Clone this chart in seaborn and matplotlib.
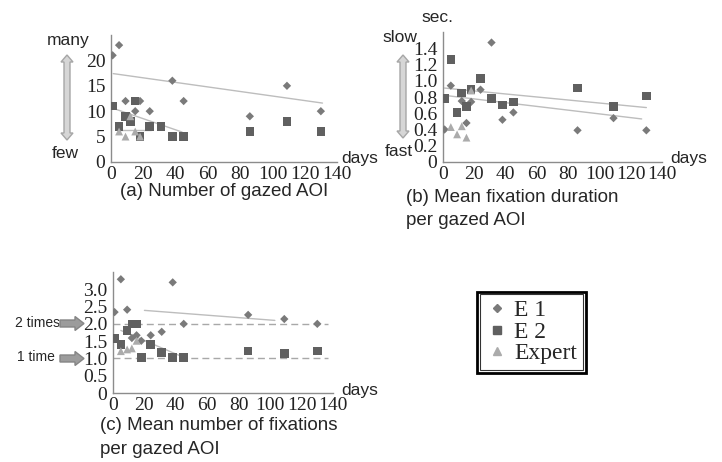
import matplotlib
matplotlib.use("Agg")
import numpy as np
import pandas as pd
import matplotlib.pyplot as plt
import seaborn as sns
from matplotlib.patches import Polygon, Rectangle
from matplotlib.lines import Line2D

sns.set_style("white")
plt.rcParams['font.family'] = ['Liberation Sans', 'DejaVu Sans']
SERIF = ['Liberation Serif', 'DejaVu Serif']

W, H = 722, 462

# ---- data (days since start, value) ----
groups = ["E 1", "E 2", "Expert"]

# (a) number of gazed AOI
a_e1_day = [1, 5, 9, 15, 18, 24, 38, 45, 86, 109, 130]
a_e1_val = [21, 23, 12, 10, 12, 10, 16, 12, 9, 15, 10]
a_e2_day = [1, 5, 9, 12, 15, 18, 24, 31, 38, 45, 86, 109, 130]
a_e2_val = [11, 7, 9, 8, 12, 5, 7, 7, 5, 5, 6, 8, 6]
a_ex_day = [5, 9, 12, 15, 18]
a_ex_val = [6, 5, 9, 6, 5]

# (b) mean fixation duration (sec.)
b_e1_day = [1, 5, 12, 15, 18, 24, 31, 38, 45, 86, 109, 130]
b_e1_val = [0.40, 0.94, 0.75, 0.48, 0.74, 0.89, 1.47, 0.52, 0.61, 0.39, 0.54, 0.39]
b_e2_day = [1, 5, 9, 12, 15, 18, 24, 31, 38, 45, 86, 109, 130]
b_e2_val = [0.78, 1.26, 0.61, 0.85, 0.68, 0.89, 1.03, 0.78, 0.70, 0.74, 0.91, 0.68, 0.81]
b_ex_day = [5, 9, 12, 15, 18]
b_ex_val = [0.43, 0.34, 0.44, 0.30, 0.88]

# (c) mean number of fixations per gazed AOI
c_e1_day = [1, 5, 9, 12, 15, 18, 24, 31, 38, 45, 86, 109, 130]
c_e1_val = [2.34, 3.29, 2.41, 1.59, 1.67, 1.51, 1.67, 1.77, 3.20, 2.00, 2.26, 2.14, 2.00]
c_e2_day = [1, 5, 9, 12, 15, 18, 24, 31, 38, 45, 86, 109, 130]
c_e2_val = [1.58, 1.41, 1.81, 2.00, 2.00, 1.02, 1.41, 1.17, 1.02, 1.02, 1.21, 1.15, 1.21]
c_ex_day = [5, 9, 12, 15]
c_ex_val = [1.21, 1.26, 1.29, 1.51]

# trend lines: (start day, end day), (start value, end value)
a_trends = [([1.4, 131], [17.4, 11.6]), ([1, 44], [10.6, 5.9]), ([3.5, 24.5], [6.3, 6.3])]
b_trends = [([1, 130], [0.91, 0.67]), ([1, 127], [0.82, 0.53])]
c_trends = [([5, 42], [1.81, 1.09]), ([20, 103], [2.39, 2.10])]
c_ref_lines = [1.0, 2.0]

palette = {"E 1": "#7a7a7a", "E 2": "#606060", "Expert": "#ababab"}
markers = {"E 1": "D", "E 2": "s", "Expert": "^"}
sizes = {"E 1": 18, "E 2": 38, "Expert": 32}


def make_df(e1d, e1v, e2d, e2v, exd, exv):
    parts = []
    for g, d, v in zip(groups, [e1d, e2d, exd], [e1v, e2v, exv]):
        parts.append(pd.DataFrame({"day": d, "value": v, "group": g}))
    return pd.concat(parts, ignore_index=True)


def fbox(l, t, r, b):
    return [l / W, 1 - b / H, (r - l) / W, (b - t) / H]


def style_axis(ax, ymax, yticks, ylabels):
    ax.set_xlim(0, 140)
    ax.set_ylim(0, ymax)
    ax.set_xticks(range(0, 141, 20))
    ax.set_xticklabels([str(v) for v in range(0, 141, 20)], family=SERIF, fontsize=14)
    ax.set_yticks(yticks)
    ax.set_yticklabels(ylabels, family=SERIF, fontsize=14)
    ax.set_xlabel("")
    ax.set_ylabel("")
    for s in ["top", "right"]:
        ax.spines[s].set_visible(False)
    for s in ["left", "bottom"]:
        ax.spines[s].set_color("#8c8c8c")
        ax.spines[s].set_linewidth(1)
    ax.tick_params(axis="both", direction="out", length=3, width=0.8, color="#8c8c8c",
                   pad=0, labelcolor="#222222")
    ax.tick_params(axis="y", pad=1)
    ax.patch.set_alpha(0)


def scatter(ax, df):
    sns.scatterplot(data=df, x="day", y="value", hue="group", style="group", size="group",
                    palette=palette, markers=markers, sizes=sizes, hue_order=groups,
                    style_order=groups, size_order=groups, edgecolor="none",
                    legend=False, ax=ax, zorder=3)


fig = plt.figure(figsize=(W / 100, H / 100), dpi=100)

# ---- (a) ----
ax_a = fig.add_axes(fbox(111, 35, 337, 162))
for xs, ys in a_trends:
    ax_a.plot(xs, ys, color="#bdbdbd", lw=1, zorder=2)
scatter(ax_a, make_df(a_e1_day, a_e1_val, a_e2_day, a_e2_val, a_ex_day, a_ex_val))
style_axis(ax_a, 25, [0, 5, 10, 15, 20], ["0", "5", "10", "15", "20"])

# ---- (b) ----
ax_b = fig.add_axes(fbox(443, 32, 662, 162))
for xs, ys in b_trends:
    ax_b.plot(xs, ys, color="#bdbdbd", lw=1, zorder=2)
scatter(ax_b, make_df(b_e1_day, b_e1_val, b_e2_day, b_e2_val, b_ex_day, b_ex_val))
b_ticks = [0, 0.2, 0.4, 0.6, 0.8, 1.0, 1.2, 1.4]
style_axis(ax_b, 1.6, b_ticks, ["0"] + ["%.1f" % t for t in b_ticks[1:]])

# ---- (c) ----
ax_c = fig.add_axes(fbox(113, 272, 333, 393))
ax_c.hlines(c_ref_lines, 0, 137, colors="#a8a8a8", linestyles=(0, (5, 3)), lw=1, zorder=1)
for xs, ys in c_trends:
    ax_c.plot(xs, ys, color="#bdbdbd", lw=1, zorder=2)
scatter(ax_c, make_df(c_e1_day, c_e1_val, c_e2_day, c_e2_val, c_ex_day, c_ex_val))
c_ticks = [0, 0.5, 1.0, 1.5, 2.0, 2.5, 3.0]
style_axis(ax_c, 3.5, c_ticks, ["0"] + ["%.1f" % t for t in c_ticks[1:]])


# ---- texts ----
def ftext(x, y, s, **kw):
    fig.text(x / W, 1 - y / H, s, **kw)


ftext(68, 40, "many", fontsize=12.5, ha="center", va="center")
ftext(65, 153, "few", fontsize=12.5, ha="center", va="center")
ftext(341, 159, "days", fontsize=12.5, ha="left", va="center")
ftext(224, 191, "(a) Number of gazed AOI", fontsize=13.5, ha="center", va="center")

ftext(421, 17, "sec.", fontsize=12.5, ha="left", va="center")
ftext(400, 38, "slow", fontsize=12.5, ha="center", va="center")
ftext(399, 152, "fast", fontsize=12.5, ha="center", va="center")
ftext(670, 158, "days", fontsize=12.5, ha="left", va="center")
ftext(406, 197, "(b) Mean fixation duration", fontsize=13.5, ha="left", va="center")
ftext(406, 221, "per gazed AOI", fontsize=13.5, ha="left", va="center")

ftext(341, 390, "days", fontsize=12.5, ha="left", va="center")
ftext(100, 426, "(c) Mean number of fixations", fontsize=13.5, ha="left", va="center")
ftext(100, 450, "per gazed AOI", fontsize=13.5, ha="left", va="center")
ftext(15, 323, "2 times", fontsize=10, ha="left", va="center")
ftext(17, 357, "1 time", fontsize=10, ha="left", va="center")


# ---- decorative arrows (pixel coords) ----
def add_poly(pts, fc, ec):
    verts = [(x / W, 1 - y / H) for x, y in pts]
    fig.add_artist(Polygon(verts, closed=True, transform=fig.transFigure,
                           facecolor=fc, edgecolor=ec, lw=1, zorder=5))


def vertical_double_arrow(cx, top, bottom):
    sw, hw, hl = 3, 6, 7
    pts = [(cx, top), (cx + hw, top + hl), (cx + sw, top + hl), (cx + sw, bottom - hl),
           (cx + hw, bottom - hl), (cx, bottom), (cx - hw, bottom - hl), (cx - sw, bottom - hl),
           (cx - sw, top + hl), (cx - hw, top + hl)]
    add_poly(pts, "#d6d6d6", "#a6a6a6")


def right_arrow(left, tip, cy):
    sw, hw, hl = 3.5, 7, 9
    pts = [(left, cy - sw), (tip - hl, cy - sw), (tip - hl, cy - hw), (tip, cy),
           (tip - hl, cy + hw), (tip - hl, cy + sw), (left, cy + sw)]
    add_poly(pts, "#9c9c9c", "#858585")


vertical_double_arrow(67, 55, 140)
vertical_double_arrow(403, 55, 138)
right_arrow(60, 84, 323.5)
right_arrow(60, 84, 358.5)

# ---- legend ----
handles = [Line2D([], [], ls="", marker=markers[g], color=palette[g],
                  markersize={"E 1": 4, "E 2": 5.5, "Expert": 5.5}[g]) for g in groups]
leg = fig.legend(handles, groups, loc="upper left", bbox_to_anchor=(480 / W, 1 - 294 / H),
                 prop={"family": SERIF, "size": 17}, frameon=True, fancybox=False,
                 edgecolor="black", handlelength=0.9, handletextpad=0.3,
                 labelspacing=0.0, borderpad=0.25, borderaxespad=0)
leg.get_frame().set_linewidth(0.8)
fig.canvas.draw()
bb = leg.get_window_extent().transformed(fig.transFigure.inverted())
pad_x, pad_y = 2.5 / W, 2.5 / H
fig.add_artist(Rectangle((bb.x0 - pad_x, bb.y0 - pad_y), bb.width + 2 * pad_x,
                         bb.height + 2 * pad_y, transform=fig.transFigure,
                         fill=False, edgecolor="black", lw=2))

fig.savefig("out.png", dpi=100)
